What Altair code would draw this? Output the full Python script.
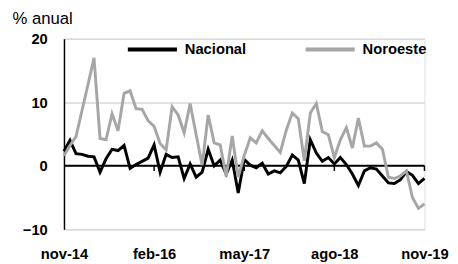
import altair as alt
import pandas as pd

nacional = [2.3, 4.0, 1.9, 1.8, 1.5, 1.4, -1.0, 1.1, 2.6, 2.4, 3.2, -0.4, 0.2, 0.7, 1.2,
            3.3, -1.0, 1.8, 1.3, 1.4, -2.0, 0.3, -1.8, -1.0, 2.6, 0.0, 0.9, -1.3, 0.9, -4.3,
            1.0, 0.1, -0.3, 0.4, -1.3, -0.8, -1.1, -0.1, 1.7, 0.9, -2.8, 4.1, 2.0, 0.7, 1.3,
            0.3, 1.3, 0.2, -1.3, -3.1, -0.8, -0.3, -0.5, -1.6, -2.7, -2.8, -2.2, -0.9, -1.5, -2.8, -2.0]
noroeste = [1.6, 3.2, 4.6, 8.7, 12.8, 17.0, 4.3, 4.1, 8.2, 5.5, 11.4, 11.8, 9.0, 8.9, 7.1,
            6.2, 3.5, 2.5, 9.3, 8.0, 5.2, 9.8, 4.9, 0.1, 8.0, 3.6, 3.3, -1.7, 4.7, -1.8,
            1.6, 4.4, 3.6, 5.5, 4.3, 3.2, 2.1, 5.6, 8.3, 7.4, 0.8, 8.3, 9.8, 5.4, 4.9,
            1.3, 4.1, 6.0, 2.8, 7.5, 3.1, 3.1, 3.6, 2.6, -1.8, -2.0, -1.6, -0.8, -5.0, -6.7, -6.0]
series = ["Nacional", "Noroeste"]
colors = ["#000000", "#a6a6a6"]
tick_pos = [0, 15, 30, 45, 60]
tick_labels = ["nov-14", "feb-16", "may-17", "ago-18", "nov-19"]
y_ticks = [-10, 0, 10, 20]

FONT = "Liberation Sans, Arial, sans-serif"

rows = []
for i, v in enumerate(nacional):
    rows.append({"mes": i, "valor": v, "serie": "Nacional"})
for i, v in enumerate(noroeste):
    rows.append({"mes": i, "valor": v, "serie": "Noroeste"})
df = pd.DataFrame(rows)

label_expr = " : ".join(
    [f"datum.value == {p} ? '{l}'" for p, l in zip(tick_pos, tick_labels)]
) + " : ''"

xscale = alt.Scale(domain=[0, 60], nice=False, zero=False)
yscale = alt.Scale(domain=[-10, 20], nice=False)

lines = alt.Chart(df).mark_line(strokeWidth=3).encode(
    x=alt.X("mes:Q", scale=xscale,
            axis=alt.Axis(values=tick_pos, labelExpr=label_expr, title=None,
                          domain=False, ticks=False, grid=False,
                          labelFont=FONT, labelFontSize=15, labelFontWeight="bold",
                          labelColor="#000000", labelPadding=18, labelFlush=False)),
    y=alt.Y("valor:Q", scale=yscale,
            axis=alt.Axis(values=y_ticks, title="% anual", titleAngle=0,
                          titleAlign="left", titleBaseline="alphabetic",
                          titleX=-53, titleY=-16, titleFont=FONT, titleFontSize=17,
                          titleFontWeight="normal", titleColor="#000000",
                          labelFont=FONT, labelFontSize=15, labelFontWeight="bold",
                          labelColor="#000000", labelPadding=17, ticks=False,
                          domain=True, domainColor="#000000", domainWidth=1.5,
                          grid=True, gridColor="#d9d9d9", gridWidth=1.5)),
    color=alt.Color("serie:N", scale=alt.Scale(domain=series, range=colors),
                    legend=alt.Legend(title=None, orient="none", legendX=63, legendY=-16,
                                      direction="horizontal", symbolType="stroke",
                                      symbolSize=2500, symbolStrokeWidth=4,
                                      labelFont=FONT, labelFontSize=15,
                                      labelFontWeight="bold", labelColor="#000000",
                                      labelOffset=6, columnPadding=52)),
)

zero = alt.Chart(pd.DataFrame({"y": [0]})).mark_rule(color="#000000", strokeWidth=2).encode(
    y=alt.Y("y:Q", scale=yscale),
)

ticks_df = pd.DataFrame({"x": tick_pos[1:], "y": [0] * 4, "y2": [-0.8] * 4})
ticks = alt.Chart(ticks_df).mark_rule(color="#000000", strokeWidth=1.5).encode(
    x=alt.X("x:Q", scale=xscale),
    y=alt.Y("y:Q", scale=yscale),
    y2="y2:Q",
)

chart = alt.layer(zero, ticks, lines).properties(
    width=367, height=194,
    autosize=alt.AutoSizeParams(type="none"),
    padding={"left": 57, "top": 29, "right": 26, "bottom": 33},
).configure_view(stroke=None).configure(background="#ffffff")

chart.save("out.html", embed_options={"renderer": "svg", "actions": False})
